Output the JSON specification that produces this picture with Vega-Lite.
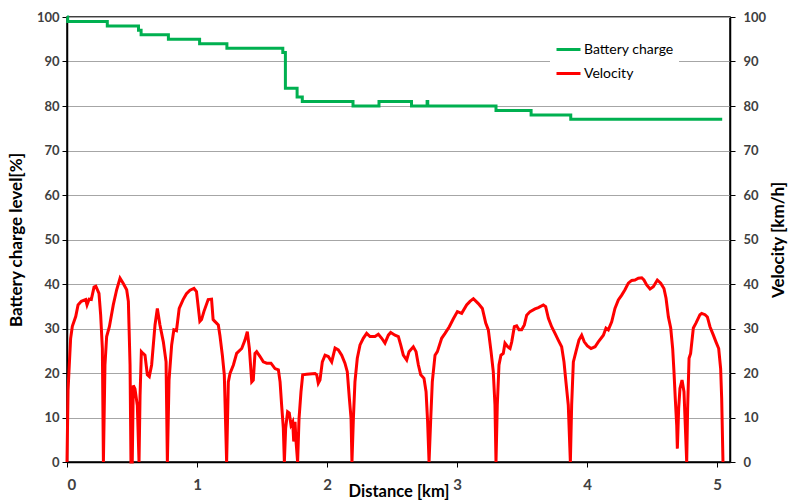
{
  "$schema": "https://vega.github.io/schema/vega-lite/v6.json",
  "width": 663,
  "height": 445,
  "autosize": {"type": "none"},
  "padding": {"left": 67, "top": 17, "right": 58, "bottom": 38},
  "background": "white",
  "config": {
    "view": {"stroke": "black", "strokeWidth": 1.5},
    "axis": {
      "labelFont": "Lato",
      "labelFontWeight": "bold",
      "labelFontSize": 13,
      "labelColor": "#404040",
      "titleFont": "Lato",
      "titleFontWeight": "bold",
      "titleFontSize": 17,
      "titleColor": "black",
      "domainColor": "black",
      "domainWidth": 1.5,
      "tickColor": "black",
      "tickSize": 5,
      "tickWidth": 1,
      "gridColor": "#a6a6a6",
      "gridWidth": 1,
      "gridOpacity": 1
    },
    "legend": {
      "labelFont": "Lato",
      "labelFontSize": 14,
      "labelColor": "black"
    }
  },
  "datasets": {
    "battery": [
      {"km": 0, "charge": 100},
      {"km": 0.005, "charge": 99},
      {"km": 0.31, "charge": 98},
      {"km": 0.55, "charge": 97},
      {"km": 0.57, "charge": 96},
      {"km": 0.78, "charge": 95},
      {"km": 1.02, "charge": 94},
      {"km": 1.23, "charge": 93},
      {"km": 1.66, "charge": 92},
      {"km": 1.68, "charge": 84},
      {"km": 1.77, "charge": 82},
      {"km": 1.81, "charge": 81},
      {"km": 2.2, "charge": 80},
      {"km": 2.4, "charge": 81},
      {"km": 2.65, "charge": 80},
      {"km": 2.77, "charge": 81},
      {"km": 2.775, "charge": 80},
      {"km": 3.3, "charge": 79},
      {"km": 3.57, "charge": 78},
      {"km": 3.875, "charge": 77},
      {"km": 5.04, "charge": 77}
    ],
    "velocity": [
      {"km": 0, "v": 0}, {"km": 0.008, "v": 16}, {"km": 0.015, "v": 20.3}, {"km": 0.028, "v": 27.8},
      {"km": 0.041, "v": 30.5}, {"km": 0.067, "v": 32.7}, {"km": 0.085, "v": 35.3}, {"km": 0.11, "v": 36.1},
      {"km": 0.144, "v": 36.5}, {"km": 0.154, "v": 35.3}, {"km": 0.17, "v": 36.6}, {"km": 0.187, "v": 36.5},
      {"km": 0.208, "v": 39.3}, {"km": 0.222, "v": 39.5}, {"km": 0.246, "v": 37.9}, {"km": 0.259, "v": 33},
      {"km": 0.272, "v": 25.5}, {"km": 0.28, "v": 0}, {"km": 0.292, "v": 21.8}, {"km": 0.305, "v": 28.2},
      {"km": 0.326, "v": 30.4}, {"km": 0.356, "v": 35.3}, {"km": 0.382, "v": 38.7}, {"km": 0.408, "v": 41.3},
      {"km": 0.433, "v": 40.1}, {"km": 0.459, "v": 38.7}, {"km": 0.472, "v": 36.1}, {"km": 0.485, "v": 21.8},
      {"km": 0.492, "v": 0}, {"km": 0.502, "v": 0}, {"km": 0.51, "v": 17.2}, {"km": 0.523, "v": 16.4},
      {"km": 0.541, "v": 12.7}, {"km": 0.554, "v": 0}, {"km": 0.562, "v": 15}, {"km": 0.572, "v": 24.8},
      {"km": 0.585, "v": 24.4}, {"km": 0.6, "v": 24}, {"km": 0.618, "v": 19.6}, {"km": 0.633, "v": 19.2},
      {"km": 0.651, "v": 21.8}, {"km": 0.677, "v": 30.8}, {"km": 0.695, "v": 34.5}, {"km": 0.715, "v": 30.8},
      {"km": 0.741, "v": 27}, {"km": 0.762, "v": 22.5}, {"km": 0.772, "v": 0}, {"km": 0.785, "v": 18.4},
      {"km": 0.805, "v": 26.3}, {"km": 0.822, "v": 29.7}, {"km": 0.842, "v": 29.5}, {"km": 0.863, "v": 34.5},
      {"km": 0.893, "v": 36.5}, {"km": 0.919, "v": 37.8}, {"km": 0.946, "v": 38.6}, {"km": 0.977, "v": 39},
      {"km": 0.996, "v": 38.3}, {"km": 1.022, "v": 31.6}, {"km": 1.035, "v": 32}, {"km": 1.053, "v": 33.8},
      {"km": 1.086, "v": 36.5}, {"km": 1.112, "v": 36.6}, {"km": 1.124, "v": 32}, {"km": 1.137, "v": 31.6},
      {"km": 1.164, "v": 30.8}, {"km": 1.176, "v": 28.5}, {"km": 1.195, "v": 24}, {"km": 1.21, "v": 19.6},
      {"km": 1.228, "v": 0}, {"km": 1.241, "v": 18}, {"km": 1.254, "v": 19.9}, {"km": 1.28, "v": 21.8},
      {"km": 1.305, "v": 24.4}, {"km": 1.344, "v": 25.5}, {"km": 1.369, "v": 27.4}, {"km": 1.387, "v": 29.3},
      {"km": 1.403, "v": 25.5}, {"km": 1.421, "v": 18}, {"km": 1.433, "v": 18.4}, {"km": 1.446, "v": 24.4},
      {"km": 1.459, "v": 24.8}, {"km": 1.485, "v": 23.7}, {"km": 1.51, "v": 22.5}, {"km": 1.536, "v": 22.2},
      {"km": 1.569, "v": 22.2}, {"km": 1.6, "v": 21}, {"km": 1.626, "v": 20.7}, {"km": 1.639, "v": 18},
      {"km": 1.651, "v": 12.8}, {"km": 1.664, "v": 7.6}, {"km": 1.672, "v": 0}, {"km": 1.682, "v": 7.6},
      {"km": 1.697, "v": 11.3}, {"km": 1.71, "v": 11}, {"km": 1.723, "v": 8.3}, {"km": 1.736, "v": 9},
      {"km": 1.744, "v": 4.6}, {"km": 1.754, "v": 9}, {"km": 1.762, "v": 4.6}, {"km": 1.774, "v": 0},
      {"km": 1.785, "v": 9.8}, {"km": 1.8, "v": 15.8}, {"km": 1.813, "v": 19.6}, {"km": 1.844, "v": 19.7},
      {"km": 1.908, "v": 19.9}, {"km": 1.921, "v": 19.6}, {"km": 1.933, "v": 17.7}, {"km": 1.946, "v": 18.4},
      {"km": 1.964, "v": 22.5}, {"km": 1.985, "v": 24}, {"km": 2.01, "v": 23.7}, {"km": 2.036, "v": 22.5},
      {"km": 2.062, "v": 25.6}, {"km": 2.087, "v": 25.2}, {"km": 2.113, "v": 24}, {"km": 2.138, "v": 22.2},
      {"km": 2.156, "v": 20.3}, {"km": 2.172, "v": 14.3}, {"km": 2.185, "v": 9.8}, {"km": 2.192, "v": 0},
      {"km": 2.203, "v": 9.8}, {"km": 2.215, "v": 18}, {"km": 2.233, "v": 23.3}, {"km": 2.254, "v": 26.3},
      {"km": 2.279, "v": 27.8}, {"km": 2.305, "v": 28.9}, {"km": 2.331, "v": 28.2}, {"km": 2.369, "v": 28.2},
      {"km": 2.395, "v": 28.7}, {"km": 2.421, "v": 27.8}, {"km": 2.446, "v": 26.7}, {"km": 2.472, "v": 28.5},
      {"km": 2.49, "v": 29.1}, {"km": 2.523, "v": 28.5}, {"km": 2.549, "v": 28.2}, {"km": 2.567, "v": 26.3},
      {"km": 2.587, "v": 24}, {"km": 2.613, "v": 22.9}, {"km": 2.631, "v": 24.8}, {"km": 2.664, "v": 25.9},
      {"km": 2.685, "v": 24.8}, {"km": 2.703, "v": 21.8}, {"km": 2.721, "v": 19.6}, {"km": 2.746, "v": 18.8},
      {"km": 2.762, "v": 15.8}, {"km": 2.774, "v": 9}, {"km": 2.785, "v": 0}, {"km": 2.797, "v": 9},
      {"km": 2.81, "v": 18}, {"km": 2.831, "v": 24}, {"km": 2.849, "v": 24.8}, {"km": 2.882, "v": 27.8},
      {"km": 2.908, "v": 28.9}, {"km": 2.941, "v": 30.4}, {"km": 2.972, "v": 32.2}, {"km": 3.003, "v": 33.8},
      {"km": 3.036, "v": 33.4}, {"km": 3.074, "v": 35.3}, {"km": 3.1, "v": 36.1}, {"km": 3.126, "v": 36.7},
      {"km": 3.164, "v": 35.6}, {"km": 3.195, "v": 34.5}, {"km": 3.221, "v": 31.2}, {"km": 3.241, "v": 29.7},
      {"km": 3.262, "v": 24.8}, {"km": 3.279, "v": 20.3}, {"km": 3.292, "v": 12.8}, {"km": 3.3, "v": 0},
      {"km": 3.31, "v": 12.8}, {"km": 3.323, "v": 21.8}, {"km": 3.338, "v": 24}, {"km": 3.356, "v": 24.4},
      {"km": 3.369, "v": 26.7}, {"km": 3.39, "v": 25.9}, {"km": 3.408, "v": 25.5}, {"km": 3.421, "v": 27},
      {"km": 3.441, "v": 30.4}, {"km": 3.459, "v": 30.6}, {"km": 3.477, "v": 29.7}, {"km": 3.497, "v": 29.7},
      {"km": 3.518, "v": 30.8}, {"km": 3.536, "v": 33}, {"km": 3.562, "v": 33.8}, {"km": 3.6, "v": 34.4},
      {"km": 3.626, "v": 34.7}, {"km": 3.664, "v": 35.3}, {"km": 3.682, "v": 34.9}, {"km": 3.703, "v": 32.3},
      {"km": 3.728, "v": 30.4}, {"km": 3.754, "v": 28.9}, {"km": 3.779, "v": 27.4}, {"km": 3.805, "v": 25.9},
      {"km": 3.823, "v": 22.5}, {"km": 3.838, "v": 18}, {"km": 3.856, "v": 12.8}, {"km": 3.872, "v": 0},
      {"km": 3.882, "v": 12.8}, {"km": 3.895, "v": 22.5}, {"km": 3.915, "v": 24.8}, {"km": 3.938, "v": 27.4},
      {"km": 3.959, "v": 28.5}, {"km": 3.979, "v": 27}, {"km": 4.003, "v": 26.1}, {"km": 4.031, "v": 25.5},
      {"km": 4.062, "v": 25.9}, {"km": 4.087, "v": 27}, {"km": 4.126, "v": 28.5}, {"km": 4.146, "v": 30.1},
      {"km": 4.164, "v": 29.7}, {"km": 4.19, "v": 31.5}, {"km": 4.215, "v": 34.5}, {"km": 4.241, "v": 36.4},
      {"km": 4.267, "v": 37.5}, {"km": 4.292, "v": 38.7}, {"km": 4.318, "v": 40.2}, {"km": 4.344, "v": 40.8},
      {"km": 4.369, "v": 40.9}, {"km": 4.395, "v": 41.3}, {"km": 4.421, "v": 41.4}, {"km": 4.438, "v": 40.9},
      {"km": 4.459, "v": 39.8}, {"km": 4.485, "v": 38.9}, {"km": 4.51, "v": 39.4}, {"km": 4.541, "v": 40.9},
      {"km": 4.567, "v": 40.2}, {"km": 4.592, "v": 39}, {"km": 4.608, "v": 36.8}, {"km": 4.626, "v": 32.6},
      {"km": 4.644, "v": 30.1}, {"km": 4.659, "v": 25.5}, {"km": 4.669, "v": 20.3}, {"km": 4.679, "v": 14.3},
      {"km": 4.69, "v": 8.3}, {"km": 4.695, "v": 3}, {"km": 4.705, "v": 12}, {"km": 4.715, "v": 16.5},
      {"km": 4.731, "v": 18.4}, {"km": 4.746, "v": 15.8}, {"km": 4.756, "v": 8.3}, {"km": 4.767, "v": 0},
      {"km": 4.774, "v": 12}, {"km": 4.785, "v": 23.3}, {"km": 4.797, "v": 24.4}, {"km": 4.818, "v": 30.1},
      {"km": 4.838, "v": 31.2}, {"km": 4.869, "v": 33.1}, {"km": 4.882, "v": 33.4}, {"km": 4.908, "v": 33.1},
      {"km": 4.926, "v": 32.6}, {"km": 4.946, "v": 30.4}, {"km": 4.972, "v": 28.5}, {"km": 4.992, "v": 27},
      {"km": 5.013, "v": 25.5}, {"km": 5.028, "v": 21}, {"km": 5.036, "v": 14.3}, {"km": 5.046, "v": 0}
    ]
  },
  "layer": [
    {
      "data": {"name": "battery"},
      "mark": {"type": "line", "interpolate": "step-after", "strokeWidth": 3},
      "encoding": {
        "x": {
          "field": "km", "type": "quantitative",
          "scale": {"domain": [0, 5.1], "nice": false},
          "axis": {
            "title": "Distance [km]",
            "values": [0, 1, 2, 3, 4, 5],
            "format": "d",
            "grid": false,
            "labelFontSize": 15,
            "labelPadding": 10,
            "titlePadding": -9,
            "titleFontSize": 16.5
          }
        },
        "y": {
          "field": "charge", "type": "quantitative",
          "scale": {"domain": [0, 100], "nice": false},
          "axis": {
            "title": "Battery charge level[%]",
            "orient": "left",
            "values": [0, 10, 20, 30, 40, 50, 60, 70, 80, 90, 100],
            "grid": true,
            "labelPadding": 3,
            "titlePadding": 11
          }
        },
        "color": {
          "datum": "Battery charge", "type": "nominal",
          "scale": {"domain": ["Battery charge", "Velocity"], "range": ["#00b050", "#ff0000"]},
          "legend": {
            "title": null,
            "orient": "none",
            "legendX": 483,
            "legendY": 14,
            "symbolType": "stroke",
            "symbolSize": 576,
            "symbolStrokeWidth": 3,
            "rowPadding": 3,
            "labelOffset": 2,
            "fillColor": "white",
            "padding": 5
          }
        }
      }
    },
    {
      "data": {"name": "velocity"},
      "mark": {"type": "line", "strokeWidth": 3},
      "encoding": {
        "x": {"field": "km", "type": "quantitative", "scale": {"domain": [0, 5.1], "nice": false}},
        "y": {
          "field": "v", "type": "quantitative",
          "scale": {"domain": [0, 100], "nice": false},
          "axis": {
            "title": "Velocity [km/h]",
            "orient": "right",
            "values": [0, 10, 20, 30, 40, 50, 60, 70, 80, 90, 100],
            "grid": false,
            "labelPadding": 8,
            "titlePadding": 22,
            "titleAngle": 270
          }
        },
        "color": {"datum": "Velocity", "type": "nominal"}
      }
    }
  ],
  "resolve": {"scale": {"y": "independent"}}
}
